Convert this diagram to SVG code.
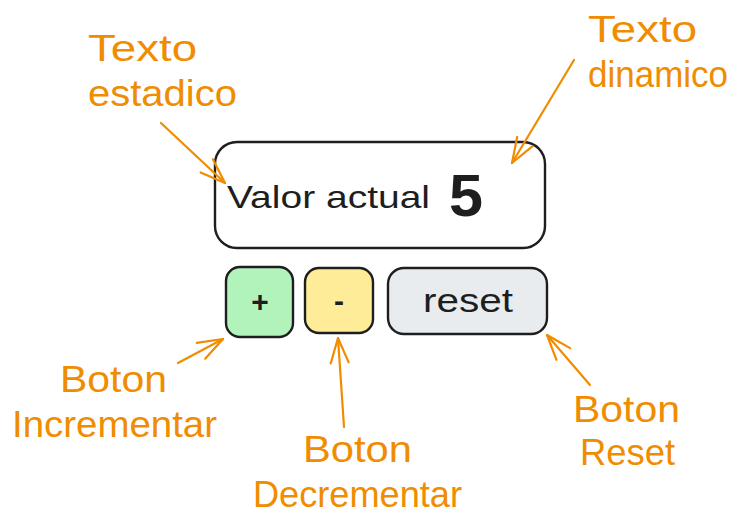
<svg xmlns="http://www.w3.org/2000/svg" width="741" height="529" viewBox="0 0 741 529">
  <style>
    .box { stroke: #1e1e1e; stroke-width: 2.4; }
    .dark { fill: #1e1e1e; font-family: "Liberation Sans", "DejaVu Sans", sans-serif; }
    .note { fill: #f08c00; font-family: "Liberation Sans", "DejaVu Sans", sans-serif; font-size: 36px; }
    .arrow { stroke: #f08c00; stroke-width: 2.2; fill: none; stroke-linecap: round; stroke-linejoin: round; }
  </style>
  <defs>
    <marker id="ah" markerUnits="userSpaceOnUse" markerWidth="30" markerHeight="30" refX="0" refY="0" orient="auto" overflow="visible">
      <path d="M -25 -9 L 0 0 L -25 9" fill="none" stroke="#f08c00" stroke-width="2.2" stroke-linecap="round" stroke-linejoin="round"/>
    </marker>
  </defs>
  <rect width="741" height="529" fill="#ffffff"/>

  <g id="display">
    <rect class="box" x="215" y="142" width="330" height="106" rx="22" fill="#ffffff"/>
    <text class="dark" x="227" y="208" font-size="32" textLength="203" lengthAdjust="spacingAndGlyphs">Valor actual</text>
    <text class="dark" x="449" y="216" font-size="60" font-weight="bold" textLength="34" lengthAdjust="spacingAndGlyphs">5</text>
  </g>

  <g id="btn-plus">
    <rect class="box" x="226" y="267" width="67" height="70" rx="14" fill="#b2f2bb"/>
    <text class="dark" x="260" y="312" font-size="30" font-weight="bold" text-anchor="middle">+</text>
  </g>

  <g id="btn-minus">
    <rect class="box" x="305" y="268" width="68" height="65" rx="14" fill="#ffec99"/>
    <text class="dark" x="339" y="311" font-size="30" font-weight="bold" text-anchor="middle">-</text>
  </g>

  <g id="btn-reset">
    <rect class="box" x="388" y="268" width="159" height="66" rx="16" fill="#e9ecef"/>
    <text class="dark" x="423" y="312" font-size="33" textLength="90" lengthAdjust="spacingAndGlyphs">reset</text>
  </g>

  <g id="label-estadico">
    <text class="note" x="88" y="61" textLength="109" lengthAdjust="spacingAndGlyphs">Texto</text>
    <text class="note" x="88" y="106" textLength="149" lengthAdjust="spacingAndGlyphs">estadico</text>
  </g>

  <g id="label-dinamico">
    <text class="note" x="588" y="42" textLength="109" lengthAdjust="spacingAndGlyphs">Texto</text>
    <text class="note" x="588" y="87" textLength="140" lengthAdjust="spacingAndGlyphs">dinamico</text>
  </g>

  <g id="label-incrementar">
    <text class="note" x="60" y="392" textLength="107" lengthAdjust="spacingAndGlyphs">Boton</text>
    <text class="note" x="12" y="437" textLength="205" lengthAdjust="spacingAndGlyphs">Incrementar</text>
  </g>

  <g id="label-decrementar">
    <text class="note" x="303" y="462" textLength="109" lengthAdjust="spacingAndGlyphs">Boton</text>
    <text class="note" x="253" y="507" textLength="209" lengthAdjust="spacingAndGlyphs">Decrementar</text>
  </g>

  <g id="label-reset">
    <text class="note" x="573" y="422" textLength="107" lengthAdjust="spacingAndGlyphs">Boton</text>
    <text class="note" x="580" y="465" textLength="95" lengthAdjust="spacingAndGlyphs">Reset</text>
  </g>

  <g id="connectors">
    <path class="arrow" d="M 161 123 L 225 183" marker-end="url(#ah)"/>
    <path class="arrow" d="M 574 60 L 512 163" marker-end="url(#ah)"/>
    <path class="arrow" d="M 178 363 L 223 339" marker-end="url(#ah)"/>
    <path class="arrow" d="M 344 427 L 338 338" marker-end="url(#ah)"/>
    <path class="arrow" d="M 590 385 L 547 335" marker-end="url(#ah)"/>
  </g>
</svg>
